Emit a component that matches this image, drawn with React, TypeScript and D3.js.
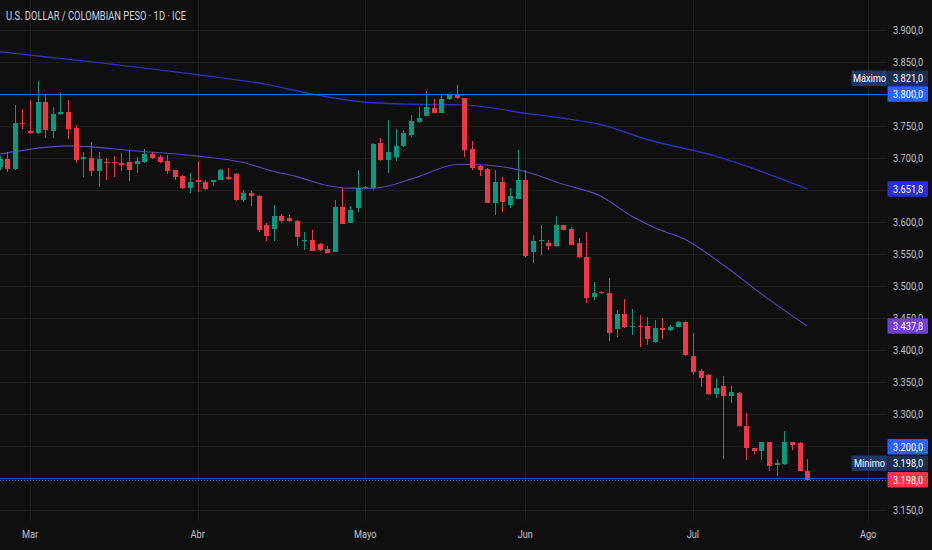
import React, { useEffect } from "react";
import * as d3 from "d3";

// ---------- DATA ----------
const open = [
  3686, 3698, 3683, 3755, 3742, 3739, 3787, 3742, 3769, 3772, 3747, 3698, 3700, 3679, 3694, 3694, 3693, 3694, 3690, 3694,
  3707, 3701, 3695, 3681, 3672, 3653, 3666, 3663, 3663, 3665, 3671, 3675, 3634, 3645, 3641, 3596, 3589, 3610, 3606, 3602,
  3571, 3572, 3566, 3558, 3554, 3623, 3599, 3622, 3654, 3653, 3723, 3697, 3701, 3719, 3736, 3757, 3766, 3778, 3771, 3792,
  3798, 3793, 3714, 3687, 3683, 3630, 3662, 3627, 3636, 3666, 3554, 3571, 3568, 3563, 3595, 3589, 3567, 3546, 3483, 3491,
  3489, 3433, 3457, 3436, 3438, 3438, 3413, 3434, 3431, 3436, 3444, 3391, 3368, 3361, 3331, 3344, 3329, 3334, 3282, 3247,
  3243, 3256, 3221, 3222, 3256, 3255, 3212,
];
const high = [
  3703, 3709, 3783, 3777, 3791, 3821, 3800, 3780, 3802, 3791, 3752, 3710, 3725, 3710, 3700, 3703, 3708, 3713, 3702, 3714,
  3710, 3704, 3704, 3682, 3674, 3676, 3696, 3666, 3666, 3683, 3684, 3676, 3650, 3648, 3642, 3598, 3627, 3613, 3611, 3603,
  3584, 3588, 3568, 3562, 3635, 3653, 3625, 3681, 3656, 3723, 3732, 3760, 3746, 3743, 3767, 3780, 3805, 3792, 3798, 3800,
  3814, 3794, 3726, 3689, 3684, 3681, 3671, 3653, 3712, 3681, 3580, 3596, 3572, 3610, 3596, 3593, 3575, 3584, 3506, 3492,
  3512, 3463, 3480, 3464, 3455, 3452, 3447, 3450, 3439, 3445, 3445, 3427, 3370, 3363, 3356, 3360, 3344, 3335, 3302, 3248,
  3257, 3257, 3230, 3274, 3257, 3256, 3231,
];
const low = [
  3682, 3678, 3682, 3745, 3738, 3738, 3731, 3731, 3767, 3730, 3693, 3671, 3672, 3655, 3665, 3670, 3680, 3664, 3677, 3692,
  3699, 3693, 3675, 3665, 3652, 3645, 3647, 3650, 3657, 3665, 3666, 3633, 3632, 3625, 3585, 3571, 3570, 3598, 3600, 3562,
  3557, 3555, 3555, 3551, 3553, 3597, 3598, 3616, 3652, 3650, 3696, 3676, 3695, 3718, 3733, 3754, 3766, 3771, 3771, 3791,
  3792, 3702, 3681, 3672, 3630, 3611, 3615, 3622, 3636, 3546, 3536, 3549, 3557, 3561, 3587, 3564, 3544, 3473, 3478, 3488,
  3414, 3420, 3435, 3424, 3405, 3408, 3412, 3417, 3430, 3436, 3391, 3361, 3342, 3330, 3325, 3231, 3317, 3280, 3229, 3238,
  3228, 3211, 3203, 3221, 3245, 3212, 3198,
];
const close = [
  3698, 3683, 3755, 3753, 3739, 3787, 3744, 3768, 3772, 3745, 3697, 3702, 3679, 3698, 3692, 3692, 3689, 3681, 3696, 3707,
  3700, 3694, 3680, 3671, 3653, 3663, 3662, 3651, 3666, 3681, 3667, 3635, 3645, 3640, 3587, 3578, 3610, 3602, 3601, 3576,
  3572, 3555, 3557, 3552, 3624, 3597, 3619, 3654, 3655, 3722, 3697, 3710, 3719, 3739, 3758, 3763, 3779, 3771, 3792, 3798,
  3793, 3713, 3684, 3681, 3630, 3662, 3632, 3640, 3666, 3547, 3570, 3572, 3563, 3596, 3588, 3565, 3545, 3481, 3490, 3489,
  3427, 3457, 3436, 3438, 3436, 3417, 3434, 3431, 3437, 3444, 3392, 3366, 3356, 3331, 3341, 3329, 3335, 3281, 3247, 3243,
  3256, 3220, 3224, 3256, 3252, 3212, 3198,
];

// moving averages at selected candles
const slowMaIdx = [0, 13, 26, 35, 41, 48, 54, 61, 69, 74, 79, 85, 94, 106];
const slowMaVal = [3866, 3849, 3830, 3815, 3800, 3787, 3784, 3783, 3770, 3762, 3752, 3729, 3703, 3651.8];
const fastMaIdx = [0, 9, 18, 26, 32, 36, 39, 43, 46, 49, 55, 60, 62, 68, 74, 79, 83, 86, 90, 95, 101, 106];
const fastMaVal = [3706, 3719, 3711, 3703, 3693, 3679, 3671, 3657, 3653, 3653, 3671, 3690, 3690, 3682, 3659, 3640, 3609, 3591, 3573, 3533, 3479, 3437.8];

const priceTicks = [3150, 3200, 3250, 3300, 3350, 3400, 3450, 3500, 3550, 3600, 3650, 3700, 3750, 3800, 3850, 3900];
const monthLabels = ["Mar", "Abr", "Mayo", "Jun", "Jul", "Ago"];
const monthIdx = [4, 26, 48, 69, 91, 114];

const title = "U.S. DOLLAR / COLOMBIAN PESO · 1D · ICE";
const hLineLevels = [3800, 3200];
const maxValue = 3821;
const minValue = 3198;
const lastClose = 3198;

// ---------- LAYOUT ----------
const W = 932;
const H = 550;
const plotRight = 887;
const axisBottom = 521;
const SX = 0.78;
const BG = "#0f0f0f";
const GRID = "#1e1e1e";
const UP = "#089981";
const DOWN = "#f23645";
const BLUE = "#2962ff";
const SLOW = "#3030b8";
const SLOW_LABEL = "#2c2ce0";
const FAST = "#5a48bf";
const FAST_LABEL = "#7440d2";
const TXT = "#c0c3cb";

const loc = d3.formatLocale({ decimal: ",", thousands: ".", grouping: [3], currency: ["", ""] });
const fmt = loc.format(",.1f");

const x = d3.scaleLinear().domain([0, 106]).range([-0.5, 807.2]);
const y = d3.scaleLinear().domain([3150, 3900]).range([510.4, 29.9]);

function T(props: any) {
  const { x: tx, y: ty, anchor = "start", size = 11.8, fill = TXT, children, weight } = props;
  return (
    <text
      transform={`translate(${tx},${ty}) scale(${SX},1)`}
      textAnchor={anchor}
      fontSize={size}
      fill={fill}
      fontWeight={weight}
      fontFamily="Roboto, 'Noto Sans', sans-serif"
    >
      {children}
    </text>
  );
}

function Box(props: any) {
  const { cy, x0, x1, bg, label, textX, anchor = "start", fill = "#ffffff" } = props;
  const h = 15.5;
  return (
    <g>
      <rect x={x0} y={cy - h / 2} width={x1 - x0} height={h} fill={bg} rx={1} />
      <T x={textX} y={cy + 4} anchor={anchor} fill={fill}>
        {label}
      </T>
    </g>
  );
}

export default function App() {
  useEffect(() => {
    document.body.style.margin = "0";
    document.body.style.background = BG;
  }, []);

  const slowLine = d3
    .line<number>()
    .x((_, i) => x(slowMaIdx[i]))
    .y((d) => y(d))
    .curve(d3.curveMonotoneX)(slowMaVal) as string;
  const fastLine = d3
    .line<number>()
    .x((_, i) => x(fastMaIdx[i]))
    .y((d) => y(d))
    .curve(d3.curveMonotoneX)(fastMaVal) as string;

  const y3800 = y(hLineLevels[0]);
  const yLast = y(lastClose);

  return (
    <svg width={W} height={H} style={{ position: "fixed", left: 0, top: 0, display: "block" }}>
      <rect x={0} y={0} width={W} height={H} fill={BG} />
      {/* grid */}
      <g shapeRendering="crispEdges">
        {priceTicks.map((t) => (
          <line key={t} x1={0} x2={plotRight} y1={Math.round(y(t)) + 0.5} y2={Math.round(y(t)) + 0.5} stroke={GRID} />
        ))}
        {monthIdx.map((m) => (
          <line key={m} x1={Math.round(x(m)) + 0.5} x2={Math.round(x(m)) + 0.5} y1={0} y2={axisBottom} stroke={GRID} />
        ))}
      </g>
      {/* moving averages */}
      <path d={slowLine} fill="none" stroke={SLOW} strokeWidth={1.4} />
      <path d={fastLine} fill="none" stroke={FAST} strokeWidth={1.1} />
      {/* candles */}
      <g shapeRendering="crispEdges">
        {open.map((o, i) => {
          const c = close[i];
          const col = c >= o ? UP : DOWN;
          const cx = Math.round(x(i));
          const top = y(Math.max(o, c));
          const bot = y(Math.min(o, c));
          return (
            <g key={i}>
              <line x1={cx + 0.5} x2={cx + 0.5} y1={y(high[i])} y2={y(low[i])} stroke={col} />
              <rect x={cx - 2} y={top} width={5} height={Math.max(1, bot - top)} fill={col} />
            </g>
          );
        })}
      </g>
      {/* horizontal lines */}
      <g shapeRendering="crispEdges">
        <line x1={0} x2={plotRight} y1={Math.round(y3800) + 0.5} y2={Math.round(y3800) + 0.5} stroke={BLUE} />
        <line x1={0} x2={plotRight} y1={Math.round(y(hLineLevels[1])) + 0.5} y2={Math.round(y(hLineLevels[1])) + 0.5} stroke={BLUE} strokeOpacity={0.6} />
        <line x1={0} x2={plotRight} y1={Math.round(yLast) + 0.5} y2={Math.round(yLast) + 0.5} stroke="#7a6cf0" strokeDasharray="1 2" strokeOpacity={0.9} />
      </g>
      {/* price axis ticks */}
      {priceTicks.map((t) => (
        <T key={t} x={893} y={y(t) + 4}>
          {fmt(t)}
        </T>
      ))}
      {/* month labels */}
      {monthLabels.map((m, i) => (
        <T key={m} x={x(monthIdx[i])} y={538} anchor="middle">
          {m}
        </T>
      ))}
      {/* value labels */}
      <Box cy={y3800 - 15.7} x0={887.5} x1={928} bg="#1c2d4f" label={fmt(maxValue)} textX={893} />
      <Box cy={y3800 - 15.7} x0={851.5} x1={887.5} bg="#1d3869" label="Máximo" textX={869.5} anchor="middle" />
      <Box cy={y3800} x0={887.5} x1={928} bg={BLUE} label={fmt(hLineLevels[0])} textX={893} />
      <Box cy={y(slowMaVal[slowMaVal.length - 1])} x0={887.5} x1={928} bg={SLOW_LABEL} label={fmt(slowMaVal[slowMaVal.length - 1])} textX={893} />
      <Box cy={y(fastMaVal[fastMaVal.length - 1])} x0={887.5} x1={928} bg={FAST_LABEL} label={fmt(fastMaVal[fastMaVal.length - 1])} textX={893} />
      <Box cy={yLast - 33} x0={887.5} x1={928} bg={BLUE} label={fmt(hLineLevels[1])} textX={893} />
      <Box cy={yLast - 16.5} x0={887.5} x1={928} bg="#1c2d4f" label={fmt(minValue)} textX={893} />
      <Box cy={yLast - 16.5} x0={851.5} x1={887.5} bg="#1d3869" label="Mínimo" textX={869.5} anchor="middle" />
      <Box cy={yLast} x0={887.5} x1={928} bg={DOWN} label={fmt(lastClose)} textX={893} />
      {/* title */}
      <T x={6} y={20} size={12} fill="#d1d4dc">
        {title}
      </T>
    </svg>
  );
}
